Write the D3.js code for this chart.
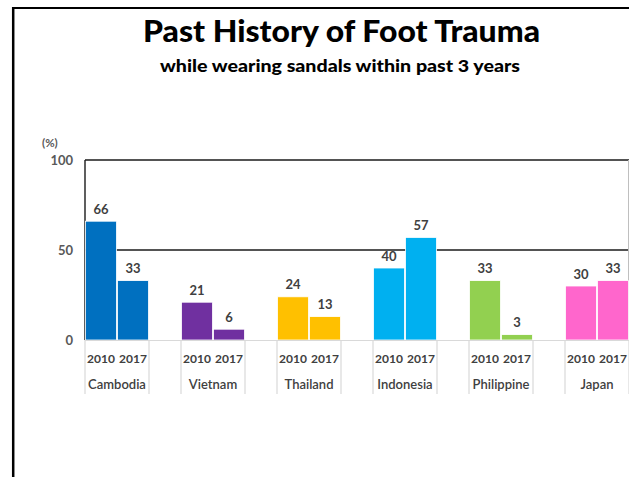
<!DOCTYPE html>
<html>
<head>
<meta charset="utf-8">
<script src="https://cdn.jsdelivr.net/npm/d3@7"></script>
<style>
  html, body { margin: 0; padding: 0; background: #fff; }
  svg { display: block; font-family: Lato, "Open Sans", sans-serif; }
</style>
</head>
<body>
<svg id="chart" width="629" height="477"></svg>
<script>
const countries = ["Cambodia", "Vietnam", "Thailand", "Indonesia", "Philippine", "Japan"];
const years = ["2010", "2017"];
const values2010 = [66, 21, 24, 40, 33, 30];
const values2017 = [33, 6, 13, 57, 3, 33];
const colors = ["#0070C0", "#7030A0", "#FFC000", "#00B0F0", "#92D050", "#FF66CC"];
const yTicks = [0, 50, 100];

const svg = d3.select("#chart");
const W = 629, H = 477;

// outer frame
svg.append("line").attr("x1", 12).attr("x2", W).attr("y1", 8).attr("y2", 8)
  .attr("stroke", "#000").attr("stroke-width", 2.2);
svg.append("line").attr("x1", 13.2).attr("x2", 13.2).attr("y1", 7).attr("y2", H)
  .attr("stroke", "#000").attr("stroke-width", 2.5);

// titles
svg.append("text").attr("x", 341.5).attr("y", 42).attr("text-anchor", "middle")
  .attr("font-size", 30).attr("font-weight", 900).attr("fill", "#000")
  .attr("textLength", 397).attr("lengthAdjust", "spacingAndGlyphs")
  .text("Past History of Foot Trauma");
svg.append("text").attr("x", 340).attr("y", 72).attr("text-anchor", "middle")
  .attr("font-size", 16.5).attr("font-weight", 900).attr("fill", "#000")
  .attr("textLength", 360).attr("lengthAdjust", "spacingAndGlyphs")
  .text("while wearing sandals within past 3 years");

// scales
const left = 85, slot = 32;
const x0 = d3.scaleBand().domain(countries).range([left, left + countries.length * slot * 3]).padding(0);
const x1 = d3.scaleBand().domain([...years, ""]).range([0, x0.bandwidth()]).padding(0);
const y = d3.scaleLinear().domain([0, 100]).range([340, 160]);

const g = svg.append("g");

// gridlines (behind bars)
g.selectAll("line.grid").data(yTicks.filter(d => d > 0)).join("line")
  .attr("class", "grid")
  .attr("x1", left).attr("x2", W).attr("y1", d => y(d)).attr("y2", d => y(d))
  .attr("stroke", "#1a1a1a").attr("stroke-width", 1.4);
// left plot border
g.append("line").attr("x1", left).attr("x2", left).attr("y1", y(100)).attr("y2", y(0))
  .attr("stroke", "#1a1a1a").attr("stroke-width", 1.4);
// right plot border (light)
g.append("line").attr("x1", 628.5).attr("x2", 628.5).attr("y1", y(100)).attr("y2", y(0))
  .attr("stroke", "#bfbfbf").attr("stroke-width", 1);

// bars
const rows = [];
countries.forEach((c, i) => {
  rows.push({ c, yr: "2010", v: values2010[i], col: colors[i] });
  rows.push({ c, yr: "2017", v: values2017[i], col: colors[i] });
});
g.selectAll("rect.bar").data(rows).join("rect")
  .attr("class", "bar")
  .attr("x", d => x0(d.c) + x1(d.yr) + 0.5)
  .attr("width", x1.bandwidth() - 1)
  .attr("y", d => y(d.v))
  .attr("height", d => y(0) - y(d.v))
  .attr("fill", d => d.col)
  .attr("stroke", "#fff").attr("stroke-width", 0.8);

// data labels
g.selectAll("text.lbl").data(rows).join("text")
  .attr("class", "lbl")
  .attr("x", d => x0(d.c) + x1(d.yr) + x1.bandwidth() / 2)
  .attr("y", d => y(d.v) - 7.5)
  .attr("text-anchor", "middle")
  .attr("font-size", 13).attr("font-weight", 700).attr("fill", "#404040")
  .text(d => d.v);

// x axis baseline
g.append("line").attr("x1", left).attr("x2", W).attr("y1", y(0) + 0.5).attr("y2", y(0) + 0.5)
  .attr("stroke", "#d9d9d9").attr("stroke-width", 1.2);

// category separators
const seps = [];
countries.forEach(c => {
  seps.push(x0(c));
  seps.push(x0(c) + x1(""));
});
g.selectAll("line.sep").data(seps).join("line")
  .attr("class", "sep")
  .attr("x1", d => d).attr("x2", d => d).attr("y1", y(0)).attr("y2", 394)
  .attr("stroke", "#d9d9d9").attr("stroke-width", 1.2);

// year labels
const yearRows = [];
countries.forEach(c => years.forEach(yr => yearRows.push({ c, yr })));
g.selectAll("text.yr").data(yearRows).join("text")
  .attr("class", "yr")
  .attr("x", d => x0(d.c) + x1(d.yr) + x1.bandwidth() / 2)
  .attr("y", 362.5)
  .attr("text-anchor", "middle")
  .attr("font-size", 12).attr("font-weight", 700).attr("fill", "#404040")
  .text(d => d.yr);

// country labels
g.selectAll("text.cty").data(countries).join("text")
  .attr("class", "cty")
  .attr("x", d => x0(d) + x1.bandwidth())
  .attr("y", 389)
  .attr("text-anchor", "middle")
  .attr("font-size", 13).attr("font-weight", 600).attr("fill", "#404040")
  .text(d => d);

// y axis labels
const yAxis = d3.axisLeft(y).tickValues(yTicks).tickSize(0).tickPadding(0);
const ya = svg.append("g").attr("transform", "translate(73,0)").call(yAxis);
ya.select(".domain").remove();
ya.selectAll("text").attr("font-family", "Lato, sans-serif")
  .attr("font-size", 13).attr("font-weight", 700).attr("fill", "#595959");

svg.append("text").attr("x", 42).attr("y", 147)
  .attr("font-size", 11.5).attr("font-weight", 700).attr("fill", "#595959")
  .text("(%)");
</script>
</body>
</html>
